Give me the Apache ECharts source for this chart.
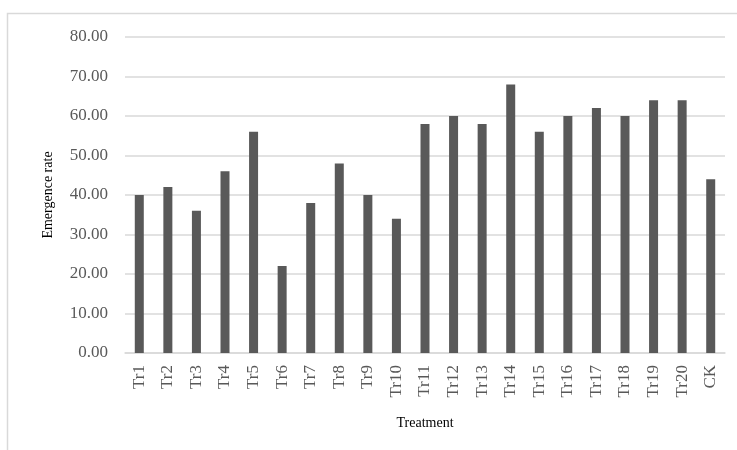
<!DOCTYPE html>
<html><head><meta charset="utf-8">
<script src="https://cdn.jsdelivr.net/npm/echarts@6/dist/echarts.min.js"></script>
<style>html,body{margin:0;padding:0;background:#fff}#c{width:737px;height:450px}</style>
</head><body><div id="c"></div>
<script>
const categories = ['Tr1','Tr2','Tr3','Tr4','Tr5','Tr6','Tr7','Tr8','Tr9','Tr10','Tr11','Tr12','Tr13','Tr14','Tr15','Tr16','Tr17','Tr18','Tr19','Tr20','CK'];
const values = [40,42,36,46,56,22,38,48,40,34,58,60,58,68,56,60,62,60,64,64,44];
const yTicks = [0,10,20,30,40,50,60,70,80];

const chart = echarts.init(document.getElementById('c'), null, {renderer:'canvas'});
const serif = '"Liberation Serif","Times New Roman",serif';
chart.setOption({
  animation:false,
  graphic:[{type:'rect',shape:{x:7.5,y:13.5,width:800,height:500},style:{fill:'none',stroke:'#d9d9d9',lineWidth:1.5},silent:true}],
  grid:{left:125,right:12,top:37,bottom:97},
  xAxis:{type:'category',data:categories,
    name:'Treatment',nameLocation:'middle',nameGap:63,
    nameTextStyle:{fontFamily:serif,fontSize:14,color:'#000'},
    axisLine:{lineStyle:{color:'#d9d9d9',width:1.5}},axisTick:{show:false},
    axisLabel:{rotate:90,interval:0,fontFamily:serif,fontSize:17,color:'#595959',margin:12}},
  yAxis:{type:'value',min:0,max:80,interval:10,
    name:'Emergence rate',nameLocation:'middle',nameGap:70,nameRotate:90,
    nameTextStyle:{fontFamily:serif,fontSize:14,color:'#000'},
    axisLine:{show:false},axisTick:{show:false},
    splitLine:{lineStyle:{color:'#d9d9d9',width:1.5}},
    axisLabel:{fontFamily:serif,fontSize:17,color:'#595959',margin:17,formatter:v=>yTicks.includes(v)?v.toFixed(2):''}},
  series:[{type:'bar',data:values,barWidth:9,itemStyle:{color:'#595959'}}]
});
</script></body></html>
